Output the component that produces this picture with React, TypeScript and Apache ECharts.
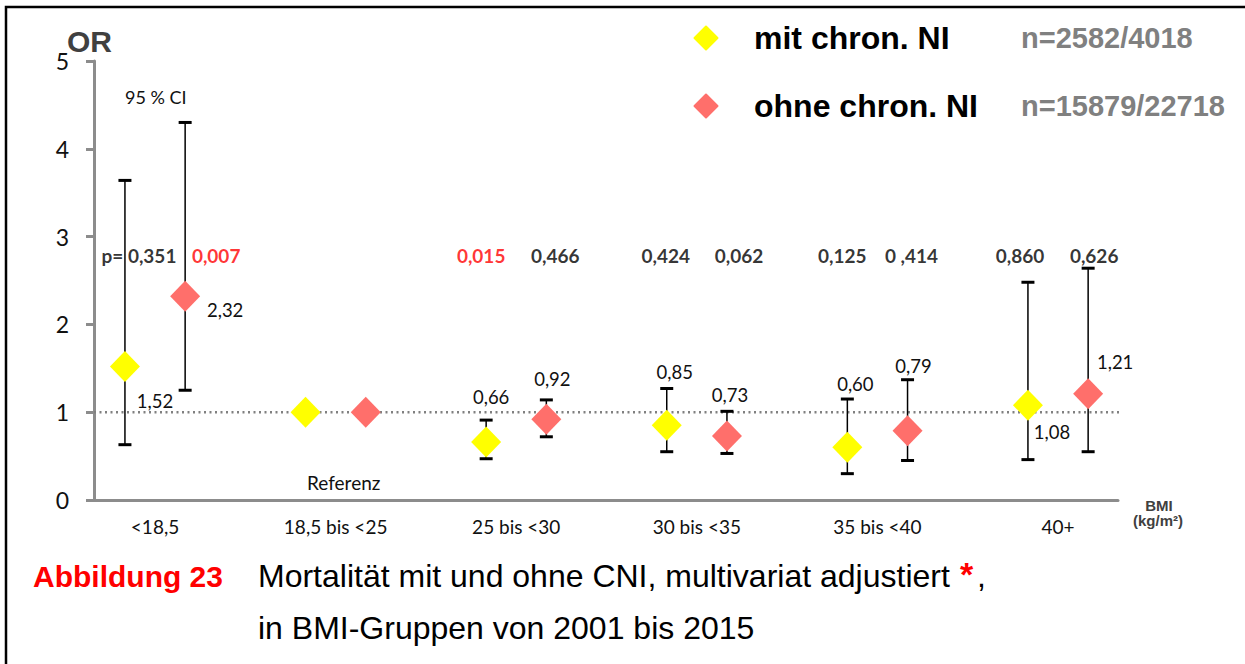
import React, { useEffect, useRef } from 'react';
import * as echarts from 'echarts';

// ---------- data ----------
const categories = ['<18,5', '18,5 bis <25', '25 bis <30', '30 bis <35', '35 bis <40', '40+'];
const REF_INDEX = 1;
const seriesNames = ['mit chron. NI', 'ohne chron. NI'];
const sampleSizes = ['n=2582/4018', 'n=15879/22718'];

const orMit = [1.52, 1.0, 0.66, 0.85, 0.6, 1.08];
const ciLowMit = [0.63, null, 0.47, 0.55, 0.3, 0.46];
const ciHighMit = [3.64, null, 0.91, 1.27, 1.15, 2.48];

const orOhne = [2.32, 1.0, 0.92, 0.73, 0.79, 1.21];
const ciLowOhne = [1.25, null, 0.72, 0.53, 0.45, 0.55];
const ciHighOhne = [4.3, null, 1.14, 1.01, 1.37, 2.64];

const pMit = ['0,351', null, '0,015', '0,424', '0,125', '0,860'];
const pOhne = ['0,007', null, '0,466', '0,062', '0 ,414', '0,626'];

const yMin = 0;
const yMax = 5;
const yInterval = 1;
const referenceOR = 1;

// ---------- layout / style (not data) ----------
const X_MIN = 0.662;
const X_MAX = 6.332;
const REF_LINE_END = 6.454;
const SHIFT = 1 / 6;
const P_ROW_Y = 2.79;
const labelOffsetsMit = [[30, 34], null, [5, -45], [8, -53], [8, -63], [24, 27]];
const labelOffsetsOhne = [[40, 14], null, [6, -40], [3, -41], [6, -65], [27, -32]];
const pOffsetsMit = [14, 0, -5, -1, -5, -8];
const pOffsetsOhne = [31, 0, 9, 12, 4, 6];
const COLORS = ['#FFFF00', '#FF6F6B'];
const LABEL_FONT = 'Lato';
const ARIAL = '"Liberation Sans", Arial, sans-serif';

const fmt = (v: number) => v.toFixed(2).replace('.', ',');
const pNum = (s: string) => parseFloat(s.replace(/\s/g, '').replace(',', '.'));

function buildOption() {
  const xs = [
    categories.map((_, i) => i + 1 - SHIFT),
    categories.map((_, i) => i + 1 + SHIFT),
  ];
  const ors = [orMit, orOhne];
  const lows = [ciLowMit, ciLowOhne];
  const highs = [ciHighMit, ciHighOhne];
  const offs = [labelOffsetsMit, labelOffsetsOhne];
  const ps = [pMit, pOhne];
  const pOffs = [pOffsetsMit, pOffsetsOhne];

  const errData: number[][] = [];
  [0, 1].forEach((s) => {
    categories.forEach((_, i) => {
      const lo = lows[s][i];
      const hi = highs[s][i];
      if (lo != null && hi != null) errData.push([xs[s][i], lo, hi]);
    });
  });

  const pointSeries = [0, 1].map((s) => ({
    type: 'scatter',
    name: seriesNames[s],
    z: 4,
    silent: true,
    symbol: 'diamond',
    symbolSize: [30, 31],
    itemStyle: { color: COLORS[s], opacity: 1 },
    data: categories.map((_, i) => {
      const o = offs[s][i];
      return {
        value: [xs[s][i], ors[s][i]],
        label: {
          show: i !== REF_INDEX && o != null,
          position: 'inside',
          offset: o || [0, 0],
          formatter: fmt(ors[s][i]),
          fontFamily: LABEL_FONT,
          fontSize: 18.5,
          color: '#111',
        },
      };
    }),
  }));

  const pSeries = [0, 1].map((s) => ({
    type: 'scatter',
    z: 5,
    silent: true,
    symbolSize: 1,
    itemStyle: { color: 'transparent' },
    data: categories
      .map((_, i) => ({ i, p: ps[s][i] }))
      .filter((d) => d.p != null)
      .map(({ i, p }) => ({
        value: [xs[s][i], P_ROW_Y],
        label: {
          show: true,
          position: 'inside',
          offset: [pOffs[s][i], 0],
          formatter: (s === 0 && i === 0 ? 'p= ' : '') + p,
          fontFamily: LABEL_FONT,
          fontWeight: 'bold',
          fontSize: 19,
          color: pNum(p as string) < 0.05 ? '#FF0000' : '#000',
        },
      })),
  }));

  const legendGraphics: any[] = [];
  const legendRows = [38, 106];
  [0, 1].forEach((s) => {
    const cy = legendRows[s];
    const cx = 706;
    const h = 11.5;
    legendGraphics.push({
      type: 'polygon',
      shape: { points: [[cx, cy - h], [cx + h, cy], [cx, cy + h], [cx - h, cy]] },
      style: { fill: COLORS[s], stroke: COLORS[s], lineWidth: 2, lineJoin: 'round' },
    });
    legendGraphics.push({
      type: 'text',
      x: 754,
      y: cy,
      style: { text: seriesNames[s], fill: '#000', font: `bold 32px ${ARIAL}`, textAlign: 'left', textVerticalAlign: 'middle' },
    });
    legendGraphics.push({
      type: 'text',
      x: 1021,
      y: cy,
      style: { text: sampleSizes[s], fill: '#808080', font: `bold 29px ${ARIAL}`, textAlign: 'left', textVerticalAlign: 'middle' },
    });
  });

  return {
    animation: false,
    backgroundColor: '#fff',
    grid: { left: 94, right: 127, top: 61, bottom: 164 },
    xAxis: {
      type: 'value',
      min: X_MIN,
      max: X_MAX,
      axisLine: { show: true, onZero: false, lineStyle: { color: '#8c8c8c', width: 3 } },
      axisTick: { show: false },
      splitLine: { show: false },
      axisLabel: {
        customValues: categories.map((_, i) => i + 1),
        formatter: (v: number) => categories[Math.round(v) - 1] ?? '',
        margin: 17,
        fontFamily: LABEL_FONT,
        fontSize: 19,
        color: '#111',
      },
    },
    yAxis: {
      type: 'value',
      min: yMin,
      max: yMax,
      interval: yInterval,
      axisLine: { show: true, lineStyle: { color: '#8c8c8c', width: 3 } },
      axisTick: { show: true, inside: false, length: 8, lineStyle: { color: '#8c8c8c', width: 3 } },
      splitLine: { show: false },
      axisLabel: { margin: 25, fontFamily: LABEL_FONT, fontSize: 23, color: '#111' },
    },
    series: [
      {
        type: 'line',
        z: 1,
        silent: true,
        clip: false,
        symbol: 'none',
        lineStyle: { color: '#808080', width: 2.5, type: [2, 3.5] },
        data: [[X_MIN, referenceOR], [REF_LINE_END, referenceOR]],
      },
      {
        type: 'custom',
        z: 2,
        silent: true,
        data: errData,
        renderItem: (_params: any, api: any) => {
          const x = api.value(0);
          const pLo = api.coord([x, api.value(1)]);
          const pHi = api.coord([x, api.value(2)]);
          const hw = 6.5;
          return {
            type: 'group',
            children: [
              { type: 'line', shape: { x1: pLo[0], y1: pLo[1], x2: pHi[0], y2: pHi[1] }, style: { stroke: '#000', lineWidth: 1.5 } },
              { type: 'line', shape: { x1: pHi[0] - hw, y1: pHi[1], x2: pHi[0] + hw, y2: pHi[1] }, style: { stroke: '#000', lineWidth: 3 } },
              { type: 'line', shape: { x1: pLo[0] - hw, y1: pLo[1], x2: pLo[0] + hw, y2: pLo[1] }, style: { stroke: '#000', lineWidth: 3 } },
            ],
          };
        },
      },
      ...pointSeries,
      ...pSeries,
    ],
    graphic: [
      {
        type: 'rect',
        shape: { x: 6, y: 7, width: 1300, height: 700 },
        style: { fill: 'none', stroke: '#000', lineWidth: 2.5 },
        silent: true,
      },
      { type: 'text', x: 67, y: 41, style: { text: 'OR', fill: '#404040', font: `bold 30px ${ARIAL}`, textAlign: 'left', textVerticalAlign: 'middle' } },
      { type: 'text', x: 125, y: 97, style: { text: '95 % CI', fill: '#111', font: `18px ${LABEL_FONT}`, textAlign: 'left', textVerticalAlign: 'middle' } },
      { type: 'text', x: 307, y: 482, style: { text: 'Referenz', fill: '#111', font: `19px ${LABEL_FONT}`, textAlign: 'left', textVerticalAlign: 'middle' } },
      { type: 'text', x: 1159, y: 505, style: { text: 'BMI', fill: '#404040', font: `bold 15px ${ARIAL}`, textAlign: 'center', textVerticalAlign: 'middle' } },
      { type: 'text', x: 1158, y: 520, style: { text: '(kg/m²)', fill: '#404040', font: `bold 15px ${ARIAL}`, textAlign: 'center', textVerticalAlign: 'middle' } },
      ...legendGraphics,
      { type: 'text', x: 33, y: 576, style: { text: 'Abbildung 23', fill: '#FF0000', font: `bold 30px ${ARIAL}`, textAlign: 'left', textVerticalAlign: 'middle' } },
      { type: 'text', x: 258, y: 576, style: { text: 'Mortalität mit und ohne CNI, multivariat adjustiert', fill: '#000', font: `32px ${ARIAL}`, textAlign: 'left', textVerticalAlign: 'middle' } },
      { type: 'text', x: 960, y: 574, style: { text: '*', fill: '#FF0000', font: `bold 34px ${ARIAL}`, textAlign: 'left', textVerticalAlign: 'middle' } },
      { type: 'text', x: 977, y: 576, style: { text: ',', fill: '#000', font: `32px ${ARIAL}`, textAlign: 'left', textVerticalAlign: 'middle' } },
      { type: 'text', x: 258, y: 628, style: { text: 'in BMI-Gruppen von 2001 bis 2015', fill: '#000', font: `32px ${ARIAL}`, textAlign: 'left', textVerticalAlign: 'middle' } },
    ],
  };
}

export default function App() {
  const ref = useRef<HTMLDivElement>(null);
  useEffect(() => {
    if (!ref.current) return;
    const chart = echarts.init(ref.current, null, { renderer: 'svg' });
    chart.setOption(buildOption() as any);
    return () => chart.dispose();
  }, []);
  return (
    <div
      ref={ref}
      style={{ position: 'fixed', left: 0, top: 0, width: 1245, height: 664, background: '#fff' }}
    />
  );
}
